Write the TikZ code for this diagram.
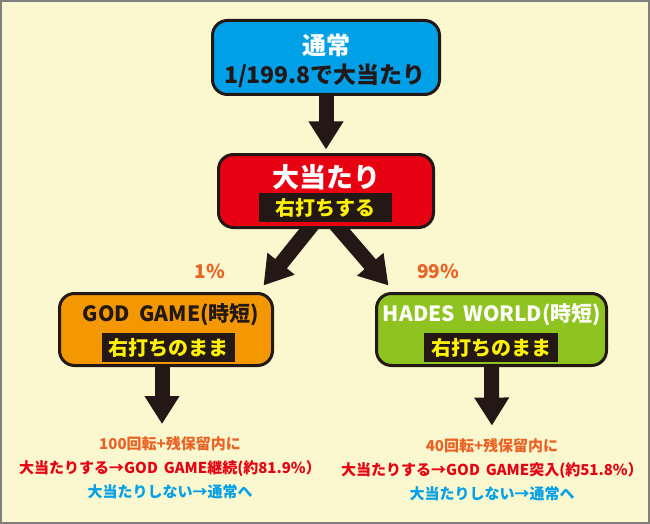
\documentclass[tikz,border=0pt]{standalone}
\usepackage{fontspec}
\setmainfont{Noto Sans CJK JP}
\usetikzlibrary{arrows.meta,backgrounds}
\definecolor{bgyellow}{HTML}{FBF7CE}
\definecolor{framegray}{HTML}{7F7F7F}
\definecolor{normalblue}{HTML}{00A0E9}
\definecolor{hitred}{HTML}{E60012}
\definecolor{godorange}{HTML}{F39800}
\definecolor{hadesgreen}{HTML}{8FC31F}
\definecolor{inkblack}{HTML}{231815}
\definecolor{tagyellow}{HTML}{FFF100}
\definecolor{rateorange}{HTML}{EA6225}

\begin{document}
\begin{tikzpicture}[x=1pt,y=-1pt,
  box/.style={draw=inkblack,line width=3pt,rounded corners=15pt,inner sep=0pt},
  tag/.style={fill=inkblack,text=tagyellow,inner sep=0pt,minimum height=29pt,font=\fontsize{20pt}{20pt}\selectfont\bfseries},
  bigarrow/.style={draw=inkblack,line width=15pt,-{Triangle[width=33pt,length=28pt]}},
  note/.style={align=center,inner sep=0pt,font=\fontsize{15pt}{24pt}\selectfont\bfseries}]
                \useasboundingbox (0,0) rectangle (650,524);
                % boxes
                \node[box,fill=normalblue,minimum width=227pt,minimum height=74pt] (normal) at (326,57.5) {};
                \node[text=white,font=\fontsize{24pt}{24pt}\selectfont\bfseries] (normaltitle) at (326,45) {通常};
                \node[text=inkblack,font=\fontsize{23pt}{23pt}\selectfont\bfseries] (normalrate) at (325,76) {1/199.8で大当たり};
                \node[box,fill=hitred,minimum width=215pt,minimum height=73pt] (hit) at (326,191) {};
                \node[text=white,font=\fontsize{27pt}{27pt}\selectfont\bfseries] (hittitle) at (326,177) {大当たり};
                \node[tag,minimum width=133pt] (hittag) at (325.5,207.5) {右打ちする};
                \node[box,fill=godorange,minimum width=213pt,minimum height=72pt] (god) at (166,329.5) {};
                \node[text=inkblack,font=\fontsize{21pt}{21pt}\selectfont\bfseries] (godtitle) at (171,315) {GOD\hspace{0.45em}GAME(時短)};
                \node[tag,minimum width=133pt] (godtag) at (168.5,347.5) {右打ちのまま};
                \node[box,fill=hadesgreen,minimum width=230pt,minimum height=72pt] (hades) at (491.5,329.5) {};
                \node[text=white,font=\fontsize{21pt}{21pt}\selectfont\bfseries] (hadestitle) at (492,315) {HADES\hspace{0.4em}WORLD(時短)};
                \node[tag,minimum width=134pt] (hadestag) at (491,347.5) {右打ちのまま};
                % rates
                \node[text=rateorange,font=\fontsize{19pt}{19pt}\selectfont\bfseries] (lowrate) at (210,271) {1\%};
                \node[text=rateorange,font=\fontsize{19pt}{19pt}\selectfont\bfseries] (highrate) at (438,271) {99\%};
                % results
                \node[note] (godnote) at (170,467.5) {\textcolor{rateorange}{100回転+残保留内に}\\\textcolor{hitred}{大当たりする→GOD\hspace{0.4em}GAME継続(約81.9\%）}\\\textcolor{normalblue}{大当たりしない→通常へ}};
                \node[note] (hadesnote) at (492,470) {\textcolor{rateorange}{40回転+残保留内に}\\\textcolor{hitred}{大当たりする→GOD\hspace{0.4em}GAME突入(約51.8\%）}\\\textcolor{normalblue}{大当たりしない→通常へ}};
                \begin{scope}[on background layer]
                \fill[bgyellow] (0,0) rectangle (650,524);
                \draw[bigarrow,shorten >=3.5pt] (normal.south) -- (hit.north);
                \draw[bigarrow] ([xshift=-9.5pt,yshift=9.5pt]hit.south) -- ([xshift=-10.5pt,yshift=6.5pt]god.north east);
                \draw[bigarrow] ([xshift=6pt,yshift=9pt]hit.south) -- ([xshift=13.5pt,yshift=6.5pt]hades.north west);
                \draw[bigarrow,shorten >=12pt] ([xshift=-4pt]god.south) -- ([xshift=-8pt]godnote.north);
                \draw[bigarrow,shorten >=13pt] (hades.south) -- (hadesnote.north);
                \end{scope}
                \draw[framegray,line width=2pt] (1,1) rectangle (649,523);
\end{tikzpicture}
\end{document}
